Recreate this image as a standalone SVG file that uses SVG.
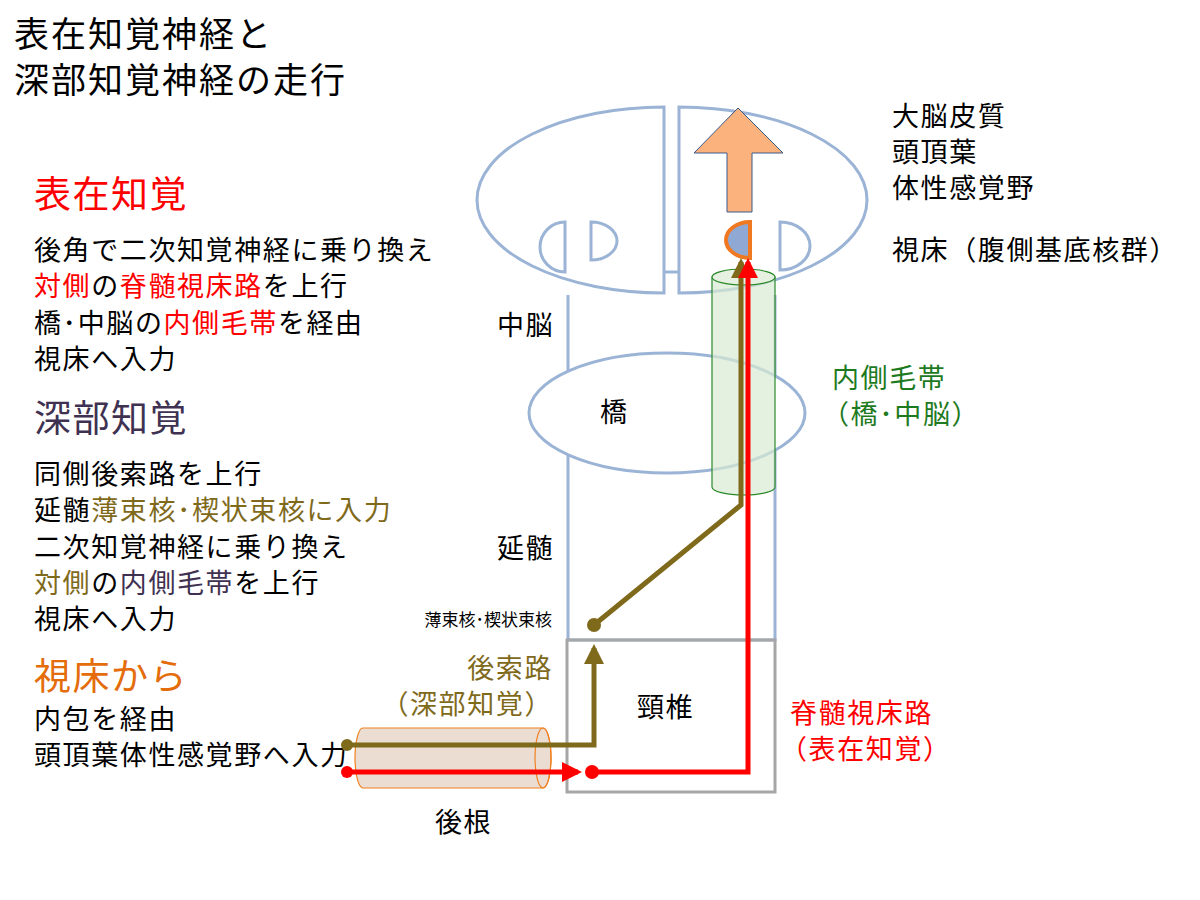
<svg xmlns="http://www.w3.org/2000/svg" width="1200" height="900" viewBox="0 0 1200 900">
<style>
text{font-family:"Noto Sans CJK JP","Noto Sans",sans-serif;fill:#000}
.t{font-size:27px;letter-spacing:1.6px}
.h{font-size:37px;letter-spacing:1.5px}
.b{fill:none;stroke:#9bb4d6;stroke-width:3}
.red{fill:#ff0000}.ol{fill:#7f6a1c}.pu{fill:#3f3151}.gr{fill:#1e7a1e}.or{fill:#e46c0a}
</style>
<defs>
<marker id="ar" viewBox="0 0 10 10" refX="8" refY="5" markerWidth="4" markerHeight="4" orient="auto"><path d="M0,0L10,5L0,10z" fill="#ff0000"/></marker>
<marker id="ao" viewBox="0 0 10 10" refX="8" refY="5" markerWidth="4" markerHeight="4" orient="auto"><path d="M0,0L10,5L0,10z" fill="#7f6a1c"/></marker>
</defs>
<rect width="1200" height="900" fill="#fff"/>
<text x="14" y="47" style="font-size:35px;letter-spacing:2px">表在知覚神経と</text>
<text x="14" y="93" style="font-size:35px;letter-spacing:2px">深部知覚神経の走行</text>
<text x="34" y="208" class="h red">表在知覚</text>
<text x="34" y="260" class="t">後角で二次知覚神経に乗り換え</text>
<text x="34" y="296" class="t"><tspan class="red">対側</tspan>の<tspan class="red">脊髄視床路</tspan>を上行</text>
<text x="34" y="333" class="t">橋･中脳の<tspan class="red">内側毛帯</tspan>を経由</text>
<text x="34" y="369" class="t">視床へ入力</text>
<text x="34" y="432" class="h pu">深部知覚</text>
<text x="34" y="484" class="t">同側後索路を上行</text>
<text x="34" y="520" class="t">延髄<tspan class="ol">薄束核･楔状束核に入力</tspan></text>
<text x="34" y="557" class="t">二次知覚神経に乗り換え</text>
<text x="34" y="593" class="t"><tspan class="ol">対側</tspan>の<tspan class="pu">内側毛帯</tspan>を上行</text>
<text x="34" y="629" class="t">視床へ入力</text>
<text x="34" y="690" class="h or">視床から</text>
<text x="34" y="729" class="t">内包を経由</text>
<text x="34" y="765" class="t">頭頂葉体性感覚野へ入力</text>
<g id="brainstem">
<polyline class="b" points="568,295 568,640 775,640 775,295"/>
<rect x="567" y="640" width="208" height="152" fill="none" stroke="#a6a6a6" stroke-width="3"/>
<ellipse class="b" cx="667" cy="413" rx="138" ry="60" style="fill:#fff"/>
</g>
<g id="cerebrum">
<path class="b" d="M664,107 A187,93 0 0 0 664,293 Z"/>
<path class="b" d="M679,107 A188,93 0 0 1 679,293 Z"/>
<line class="b" x1="664" y1="272" x2="679" y2="272"/>
<path class="b" d="M565,222 A25,25 0 0 0 565,272 Z"/>
<path class="b" d="M591,222 A26,19 0 0 1 591,260 Z"/>
<path class="b" d="M780,222 A30,24 0 0 1 780,270 Z"/>
<path d="M750,222 A24,18 0 0 0 750,258 Z" fill="#8fa9d4" stroke="#f07820" stroke-width="4"/>
<path d="M738,108 L783,153 L752,153 L752,212 L727,212 L727,153 L694,153 Z" fill="#fbb27d" stroke="#3c5a8c" stroke-width="1"/>
</g>
<g id="lemniscus">
<path d="M712,277 L712,487 A31.5,8 0 0 0 775,487 L775,277 Z" fill="#d9ead3" fill-opacity="0.7" stroke="#2a8a2a" stroke-width="1.2"/>
<ellipse cx="743.5" cy="277" rx="31.5" ry="8" fill="#e6f1e2" stroke="#2a8a2a" stroke-width="1.2"/>
</g>
<g id="root">
<path d="M363,728 L543,728 A8,30 0 0 1 543,788 L363,788 A8,30 0 0 1 363,728 Z" fill="#e6d5c5" fill-opacity="0.8" stroke="#f08020" stroke-width="1.2"/>
<ellipse cx="543" cy="758" rx="8" ry="30" fill="none" stroke="#f08020" stroke-width="1.2"/>
</g>
<g id="connectors" fill="none" stroke-width="5">
<polyline points="347,745 594,745 594,648" stroke="#7f6a1c" marker-end="url(#ao)"/>
<polyline points="594,625 741,505 741,262" stroke="#7f6a1c" marker-end="url(#ao)"/>
<line x1="347" y1="772" x2="578" y2="772" stroke="#ff0000" marker-end="url(#ar)"/>
<polyline points="592,772 748,772 748,262" stroke="#ff0000" marker-end="url(#ar)"/>
<circle cx="347" cy="745" r="6" fill="#7f6a1c" stroke="none"/>
<circle cx="347" cy="772" r="6" fill="#ff0000" stroke="none"/>
<circle cx="592" cy="772" r="7" fill="#ff0000" stroke="none"/>
<circle cx="594" cy="625" r="7" fill="#7f6a1c" stroke="none"/>
</g>
<text x="892" y="126" class="t">大脳皮質</text>
<text x="892" y="162" class="t">頭頂葉</text>
<text x="892" y="198" class="t">体性感覚野</text>
<text x="892" y="260" class="t">視床（腹側基底核群）</text>
<text x="497" y="335" class="t">中脳</text>
<text x="600" y="422" class="t">橋</text>
<text x="497" y="558" class="t">延髄</text>
<text x="552" y="626" text-anchor="end" style="font-size:17px">薄束核･楔状束核</text>
<text x="553" y="678" text-anchor="end" class="t ol">後索路</text>
<text x="553" y="714" text-anchor="end" class="t ol">（深部知覚）</text>
<text x="637" y="717" class="t">頸椎</text>
<text x="435" y="832" class="t">後根</text>
<text x="832" y="388" class="t gr">内側毛帯</text>
<text x="822" y="424" class="t gr">（橋･中脳）</text>
<text x="790" y="723" class="t red">脊髄視床路</text>
<text x="780" y="759" class="t red">（表在知覚）</text>
</svg>
